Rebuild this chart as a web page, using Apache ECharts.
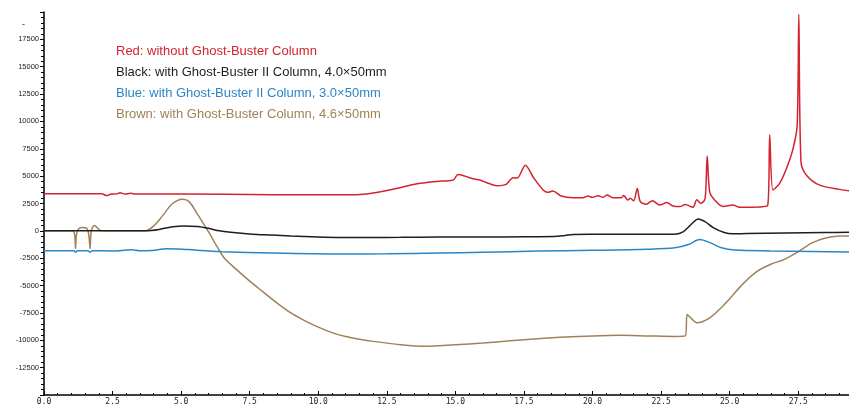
<!DOCTYPE html>
<html>
<head>
<meta charset="utf-8">
<script src="https://cdn.jsdelivr.net/npm/echarts@6/dist/echarts.min.js"></script>
<style>html,body{margin:0;padding:0;background:#fff;}#c{width:849px;height:406px;}</style>
</head>
<body>
<div id="c"></div>
<script>
// ---- data (time in min, signal) ----
const redT = [0, 2.1, 2.29, 2.45, 2.65, 2.77, 2.95, 3.16, 3.35, 5, 8.3, 11.4, 12.0, 12.8, 13.6, 14.3, 14.9, 15.1, 15.35, 15.6, 15.9, 16.2, 16.5, 16.85, 17.1, 17.25, 17.55, 17.85, 18.2, 18.37, 18.55, 18.86, 19.3, 19.65, 19.83, 20.0, 20.2, 20.38, 20.53, 20.74, 21.05, 21.13, 21.29, 21.37, 21.5, 21.63, 21.74, 21.96, 22.18, 22.45, 22.71, 22.93, 23.18, 23.38, 23.66, 23.8, 23.94, 24.1, 24.18, 24.27, 24.45, 24.76, 25.12, 25.36, 26.38, 26.46, 26.58, 26.82, 27.07, 27.31, 27.46, 27.52, 27.6, 27.8, 28.28, 29.0, 29.4];
const redV = [3380, 3380, 3220, 3360, 3380, 3480, 3370, 3430, 3370, 3360, 3310, 3300, 3450, 3850, 4300, 4520, 4620, 5150, 5000, 4790, 4640, 4350, 4130, 4250, 4850, 4820, 6000, 4850, 3730, 3520, 3640, 3180, 3030, 3030, 3180, 3060, 3200, 3060, 3270, 3030, 3030, 3220, 2820, 2970, 2750, 3880, 2670, 2430, 2760, 2360, 2580, 2270, 2220, 2400, 2150, 2850, 2520, 2900, 6850, 3580, 2820, 2220, 2360, 2150, 2310, 8790, 3730, 4340, 5700, 7520, 9640, 19800, 6300, 5090, 4180, 3790, 3640];

const blackT = [0, 3.7, 4.2, 4.7, 5.1, 5.6, 6.0, 6.4, 7.0, 7.6, 8.3, 9.0, 10.0, 10.8, 12.0, 13.0, 14.4, 16.0, 17.5, 18.6, 19.0, 19.3, 20.5, 22.0, 23.0, 23.3, 23.6, 23.85, 24.1, 24.4, 24.8, 25.1, 25.6, 27.0, 28.5, 29.4];
const blackV = [0, 0, 130, 380, 455, 400, 230, 0, -180, -300, -380, -470, -560, -600, -600, -590, -570, -560, -540, -520, -420, -330, -320, -320, -300, -100, 600, 1090, 850, 300, -150, -270, -250, -200, -150, -130];

const blueT = [0, 1.1, 1.16, 1.22, 1.6, 1.68, 1.76, 2.5, 3.0, 3.2, 3.5, 3.9, 4.2, 4.45, 4.9, 5.5, 6.5, 8.3, 10.8, 12.5, 14.4, 16, 18, 20, 22, 23, 23.5, 23.9, 24.3, 24.7, 25.2, 26.5, 28, 29.4];
const blueV = [-1820, -1820, -1960, -1820, -1820, -1960, -1820, -1830, -1760, -1730, -1820, -1800, -1700, -1640, -1650, -1760, -1900, -2030, -2120, -2100, -2030, -1950, -1850, -1780, -1680, -1550, -1250, -800, -1100, -1550, -1750, -1830, -1880, -1940];

const brownT = [0, 1.05, 1.12, 1.15, 1.18, 1.25, 1.4, 1.55, 1.63, 1.68, 1.71, 1.76, 1.85, 1.95, 2.1, 3.7, 4.0, 4.3, 4.67, 5.05, 5.3, 5.6, 6.0, 6.3, 6.57, 7.0, 7.5, 8.0, 8.5, 9.0, 9.5, 10.0, 10.5, 11.0, 11.5, 12.0, 13.0, 13.9, 15.0, 16.0, 17.0, 18.0, 19.0, 20.0, 21.0, 22.0, 23.0, 23.38, 23.45, 23.6, 23.8, 24.0, 24.3, 24.7, 25.0, 25.5, 26.0, 26.5, 27.0, 27.5, 28.0, 28.5, 29.0, 29.4];
const brownV = [0, 0, -400, -1620, -400, 150, 300, 250, -300, -1620, -300, 300, 490, 250, 0, 0, 450, 1300, 2450, 2880, 2650, 1500, -100, -1400, -2480, -3500, -4600, -5600, -6600, -7500, -8200, -8800, -9300, -9650, -9900, -10100, -10400, -10550, -10400, -10250, -10050, -9850, -9700, -9600, -9550, -9600, -9650, -9600, -7650, -8000, -8400, -8300, -7900, -7000, -6200, -4800, -3700, -3050, -2600, -1900, -1100, -650, -480, -460];

const legendTexts = [
  'Red: without Ghost-Buster Column',
  'Black: with Ghost-Buster II Column, 4.0\u00d750mm',
  'Blue: with Ghost-Buster II Column, 3.0\u00d750mm',
  'Brown: with Ghost-Buster Column, 4.6\u00d750mm'
];
const colors = ['#d4222f', '#1e1e1e', '#2a86c8', '#a0815a'];

function pairs(t, v) { return t.map((x, i) => [x, v[i]]); }

const chart = echarts.init(document.getElementById('c'), null, {renderer: 'canvas'});
const seriesData = [pairs(redT, redV), pairs(blackT, blackV), pairs(blueT, blueV), pairs(brownT, brownV)];

chart.setOption({
  animation: false,
  backgroundColor: '#fff',
  grid: {left: 44, right: 0, top: 12, bottom: 9, containLabel: false},
  xAxis: {
    type: 'value', min: 0, max: 29.35, interval: 2.5,
    axisLine: {show: true, onZero: false, lineStyle: {color: '#000', width: 1.5}},
    axisTick: {show: true, inside: true, length: 4, lineStyle: {color: '#000'}},
    minorTick: {show: true, splitNumber: 5, length: 2, lineStyle: {color: '#000'}},
    splitLine: {show: false},
    axisLabel: {show: true, showMaxLabel: false, fontFamily: 'DejaVu Sans Mono', fontSize: 8, color: '#222', margin: 3,
      formatter: v => v.toFixed(1)}
  },
  yAxis: {
    type: 'value', min: -15000, max: 20000, interval: 2500,
    axisLine: {show: true, onZero: false, lineStyle: {color: '#000', width: 1.5}},
    axisTick: {show: true, inside: false, length: 4, lineStyle: {color: '#000'}},
    minorTick: {show: true, splitNumber: 5, length: 3, lineStyle: {color: '#000'}},
    splitLine: {show: false},
    axisLabel: {show: true, showMaxLabel: false, showMinLabel: false, fontFamily: 'Liberation Sans', fontSize: 7.5, color: '#222', margin: 5,
      formatter: v => String(v)}
  },
  graphic: [
    {type: 'text', left: 22, top: 20, style: {text: '-', fontSize: 9, fontFamily: 'Liberation Sans', fill: '#222'}}
  ].concat(legendTexts.map((t, i) => ({
    type: 'text', left: 116, top: 44.5 + i * 21.1,
    style: {text: t, fontSize: 13, fontFamily: 'Liberation Sans', fill: colors[i]}
  }))),
  series: seriesData.map((d, i) => ({
    type: 'line', data: d, showSymbol: false, symbol: 'none',
    smooth: 0.3,
    lineStyle: {color: colors[i], width: 1.5},
    z: i === 0 ? 5 : 4 - i + 1
  }))
});
</script>
</body>
</html>
